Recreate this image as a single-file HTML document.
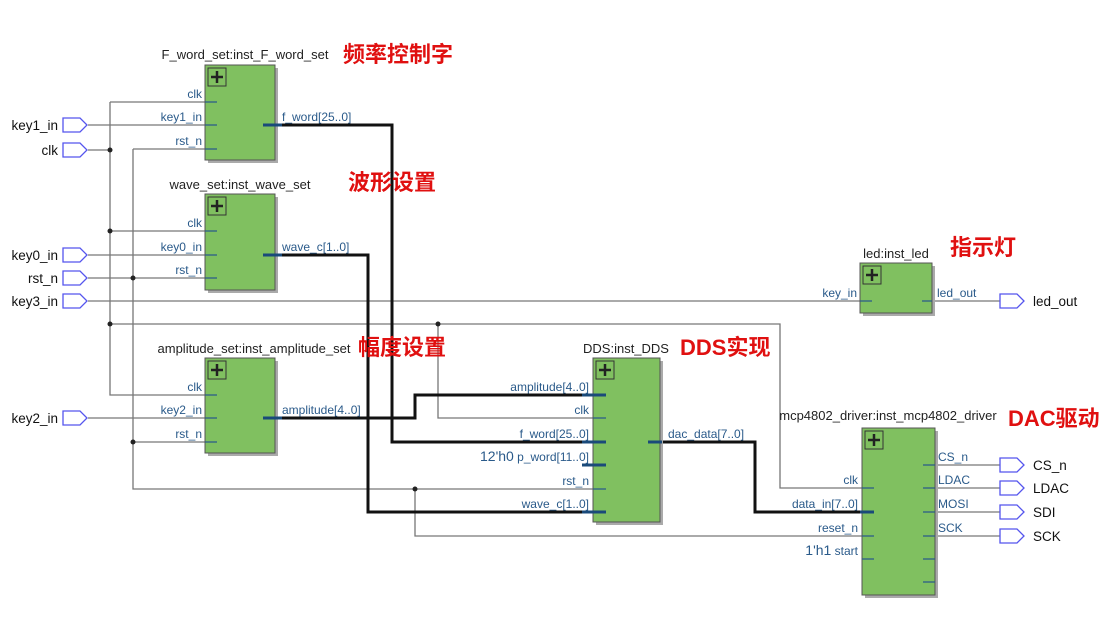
<!DOCTYPE html>
<html><head><meta charset="utf-8"><style>
body{margin:0;background:#fff}
svg text{font-family:"Liberation Sans","Noto Sans CJK SC",sans-serif}
.t{font-size:13px;fill:#222}
.p{font-size:12px;fill:#2a5a8a}
.r{font-size:22px;fill:#e01010;font-weight:bold}
.io{font-size:13.5px;fill:#111}
</style></head><body>
<svg width="1104" height="630" viewBox="0 0 1104 630" xmlns="http://www.w3.org/2000/svg">
<defs>
<g id="plus"><rect x="0" y="0" width="18" height="18" fill="#80c060" stroke="#333" stroke-width="1"/><path d="M9 3V15M3 9H15" stroke="#222" stroke-width="2.5"/></g>
</defs>
<g stroke="#777" stroke-width="1.3" fill="none">
<path d="M88 125H217"/>
<path d="M88 150H110"/>
<path d="M110 102H217M110 102V395H217M110 231H217"/>
<path d="M88 278H217M133 149H217M133 149V489H598M133 442H217"/>
<path d="M88 255H217"/>
<path d="M88 301H872"/>
<path d="M88 418H217"/>
<path d="M110 324H780V488H872M438 324V418H598"/>
<path d="M415 489V536H872"/>
<path d="M933 301H1000"/>
<path d="M933 465H1000M933 488H1000M933 512H1000M933 536H1000"/>
</g>
<g stroke="#111" stroke-width="3" fill="none">
<path d="M263 125H392V442H598"/>
<path d="M263 255H368V512H598"/>
<path d="M263 418H415V395H598"/>
<path d="M648 442H755V512H872"/>
</g>
<g fill="#222"><circle cx="110" cy="150" r="2.5"/><circle cx="110" cy="231" r="2.5"/><circle cx="110" cy="324" r="2.5"/><circle cx="133" cy="278" r="2.5"/><circle cx="133" cy="442" r="2.5"/><circle cx="438" cy="324" r="2.5"/><circle cx="415" cy="489" r="2.5"/></g>
<g>
<rect x="208" y="68" width="70" height="95" fill="#aaa"/><rect x="205" y="65" width="70" height="95" fill="#80c060" stroke="#555"/><use href="#plus" x="208" y="68"/>
<rect x="208" y="197" width="70" height="96" fill="#aaa"/><rect x="205" y="194" width="70" height="96" fill="#80c060" stroke="#555"/><use href="#plus" x="208" y="197"/>
<rect x="208" y="361" width="70" height="95" fill="#aaa"/><rect x="205" y="358" width="70" height="95" fill="#80c060" stroke="#555"/><use href="#plus" x="208" y="361"/>
<rect x="596" y="361" width="67" height="164" fill="#aaa"/><rect x="593" y="358" width="67" height="164" fill="#80c060" stroke="#555"/><use href="#plus" x="596" y="361"/>
<rect x="863" y="266" width="72" height="50" fill="#aaa"/><rect x="860" y="263" width="72" height="50" fill="#80c060" stroke="#555"/><use href="#plus" x="863" y="266"/>
<rect x="865" y="431" width="73" height="167" fill="#aaa"/><rect x="862" y="428" width="73" height="167" fill="#80c060" stroke="#555"/><use href="#plus" x="865" y="431"/>
</g>
<g stroke="#2a5a8a" stroke-width="1.3">
<path d="M205 102H217M205 125H217M205 149H217M205 231H217M205 255H217M205 278H217M205 395H217M205 418H217M205 442H217"/>
<path d="M593 418H606M593 489H606M860 301H872M922 301H932M862 488H874M862 536H874M862 559H874M923 465H935M923 488H935M923 512H935M923 536H935M923 559H935M923 582H935"/>
</g>
<g stroke="#1a4a7a" stroke-width="3">
<path d="M263 125H282M263 255H282M263 418H282M582 395H606M582 442H606M582 465H606M582 512H606M648 442H662M860 512H874"/>
</g>
<g fill="#fff" stroke="#5555ee" stroke-width="1.3">
<path d="M63 118H80L87 125L80 132H63Z"/><path d="M63 143H80L87 150L80 157H63Z"/>
<path d="M63 248H80L87 255L80 262H63Z"/><path d="M63 271H80L87 278L80 285H63Z"/>
<path d="M63 294H80L87 301L80 308H63Z"/><path d="M63 411H80L87 418L80 425H63Z"/>
<path d="M1000 294H1017L1024 301L1017 308H1000Z"/>
<path d="M1000 458H1017L1024 465L1017 472H1000Z"/><path d="M1000 481H1017L1024 488L1017 495H1000Z"/>
<path d="M1000 505H1017L1024 512L1017 519H1000Z"/><path d="M1000 529H1017L1024 536L1017 543H1000Z"/>
</g>
<g class="io" text-anchor="end">
<text x="58" y="130">key1_in</text><text x="58" y="155">clk</text><text x="58" y="260">key0_in</text><text x="58" y="283">rst_n</text><text x="58" y="306">key3_in</text><text x="58" y="423">key2_in</text>
</g>
<g class="io"><text x="1033" y="306">led_out</text><text x="1033" y="470">CS_n</text><text x="1033" y="493">LDAC</text><text x="1033" y="517">SDI</text><text x="1033" y="541">SCK</text></g>
<g class="t" text-anchor="middle">
<text x="245" y="59">F_word_set:inst_F_word_set</text>
<text x="240" y="189">wave_set:inst_wave_set</text>
<text x="254" y="353">amplitude_set:inst_amplitude_set</text>
<text x="626" y="353">DDS:inst_DDS</text>
<text x="896" y="258">led:inst_led</text>
<text x="888" y="420">mcp4802_driver:inst_mcp4802_driver</text>
</g>
<g class="p" text-anchor="end">
<text x="202" y="98">clk</text><text x="202" y="121">key1_in</text><text x="202" y="145">rst_n</text>
<text x="202" y="227">clk</text><text x="202" y="251">key0_in</text><text x="202" y="274">rst_n</text>
<text x="202" y="391">clk</text><text x="202" y="414">key2_in</text><text x="202" y="438">rst_n</text>
<text x="589" y="391">amplitude[4..0]</text><text x="589" y="414">clk</text><text x="589" y="438">f_word[25..0]</text><text x="589" y="461"><tspan font-size="14">12'h0</tspan> p_word[11..0]</text><text x="589" y="485">rst_n</text><text x="589" y="508">wave_c[1..0]</text>
<text x="857" y="297">key_in</text>
<text x="858" y="484">clk</text><text x="858" y="508">data_in[7..0]</text><text x="858" y="532">reset_n</text><text x="858" y="555"><tspan font-size="14">1'h1</tspan> start</text>
</g>
<g class="p">
<text x="282" y="121">f_word[25..0]</text><text x="282" y="251">wave_c[1..0]</text><text x="282" y="414">amplitude[4..0]</text>
<text x="668" y="438">dac_data[7..0]</text><text x="937" y="297">led_out</text>
<text x="938" y="461">CS_n</text><text x="938" y="484">LDAC</text><text x="938" y="508">MOSI</text><text x="938" y="532">SCK</text>
</g>
<g class="r">
<text x="343" y="62">频率控制字</text><text x="348" y="190">波形设置</text><text x="950" y="255">指示灯</text>
<text x="358" y="355">幅度设置</text><text x="680" y="355">DDS实现</text><text x="1008" y="426">DAC驱动</text>
</g>
</svg>
</body></html>
